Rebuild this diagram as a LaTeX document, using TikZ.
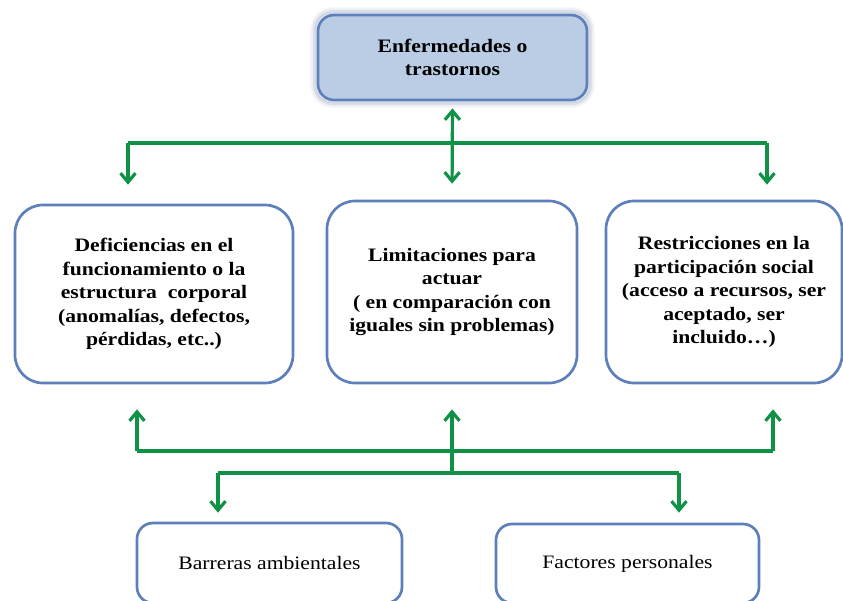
\documentclass[tikz,border=0pt]{standalone}
\usepackage{fontspec}
\setmainfont{Liberation Serif}[FakeStretch=1.14]
\usetikzlibrary{arrows.meta}

\definecolor{linkgreen}{RGB}{16,146,70}
\definecolor{boxblue}{RGB}{94,128,186}
\definecolor{topfill}{RGB}{186,205,229}
\definecolor{glowblue}{RGB}{70,95,140}

\pgfdeclarelayer{background}
\pgfsetlayers{background,main}

\tikzset{
  box/.style={draw=boxblue, line width=2.7pt, fill=white, align=center,
    inner sep=0pt, font=\fontsize{19}{23.5}\selectfont},
  bigbox/.style={box, rounded corners=28pt, font=\bfseries\fontsize{19}{23.5}\selectfont},
  topbox/.style={box, rounded corners=16pt, fill=topfill,
    font=\bfseries\fontsize{19}{23.5}\selectfont},
  lowbox/.style={box, rounded corners=16pt},
  link/.style={draw=linkgreen, line width=3.2pt},
  barb/.tip={Straight Barb[length=9pt,width=15pt,line width=3.2pt]},
  arr/.style={link, -barb},
  darr/.style={link, barb-barb}
}

\begin{document}
\begin{tikzpicture}[x=1pt, y=-1pt]
  \useasboundingbox (0,0) rectangle (843,600);
  \clip (0,0) rectangle (843,600);

  % boxes
  \node[topbox, minimum width=269pt, minimum height=85pt] (top) at (452.5,57.5)
    {Enfermedades o\\trastornos};
  \node[bigbox, minimum width=278pt, minimum height=178pt] (left) at (154,294)
    {Deficiencias en el\\funcionamiento o la\\estructura\ \ corporal\\(anomalías, defectos,\\pérdidas, etc..)};
  \node[bigbox, minimum width=250pt, minimum height=182pt] (mid) at (452,292)
    {Limitaciones para\\actuar\\( en comparación con\\iguales sin problemas)};
  \node[bigbox, minimum width=236pt, minimum height=182pt] (right) at (724,292)
    {Restricciones en la\\participación social\\(acceso a recursos, ser\\aceptado, ser\\incluido…)};
  \node[lowbox, minimum width=265pt, minimum height=80pt] (barr) at (269.5,563)
    {Barreras ambientales};
  \node[lowbox, minimum width=263pt, minimum height=79pt] (fact) at (627.5,563.5)
    {Factores personales};

  % soft halo round the top box
  \begin{pgfonlayer}{background}
    \foreach \d/\o in {1/0.22,2.5/0.15,4/0.09,5.5/0.05}{
      \draw[glowblue, line width=2pt, opacity=\o, rounded corners={16pt+\d pt}]
        ([shift={(-\d,\d)}]top.south west) rectangle ([shift={(\d,-\d)}]top.north east);
    }
  \end{pgfonlayer}

  % upper distribution bus
  \coordinate (busL) at (128,143);
  \coordinate (busR) at (767,143);
  \draw[link] (busL) -- (busR);
  \draw[darr, shorten <=7pt, shorten >=16pt] (top.south) -- (mid.north);
  \draw[arr, shorten >=19pt] (busL) -- (busL |- left.north);
  \draw[arr, shorten >=15pt] (busR) -- (busR |- right.north);

  % lower buses
  \coordinate (upL) at (137,451);
  \coordinate (upR) at (773,451);
  \coordinate (loC) at (452,473);
  \coordinate (loL) at (218,473);
  \coordinate (loR) at (679,473);
  \draw[link] (upL) -- (upR);
  \draw[link] (loL) -- (loR);
  \draw[arr, shorten >=25pt] (upL) -- (upL |- left.south);
  \draw[arr, shorten >=25pt] (upR) -- (upR |- right.south);
  \draw[arr, shorten >=25pt] (loC) -- (mid.south);
  \draw[arr, shorten >=9pt] (loL) -- (loL |- barr.north);
  \draw[arr, shorten >=10pt] (loR) -- (loR |- fact.north);
\end{tikzpicture}
\end{document}
